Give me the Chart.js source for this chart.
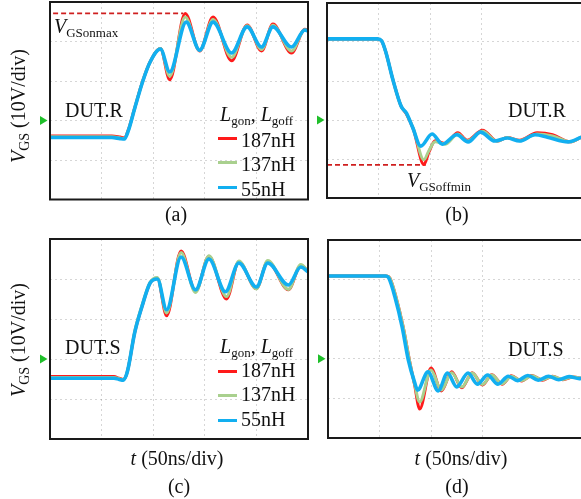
<!DOCTYPE html>
<html><head><meta charset="utf-8">
<script src="https://cdn.jsdelivr.net/npm/chart.js@4.4.0/dist/chart.umd.min.js"></script>
<style>
html,body{margin:0;padding:0;background:#fff;}
#wrap{position:relative;width:581px;height:499px;overflow:hidden;font-family:"Liberation Serif","Times New Roman",serif;color:#111;}
canvas{position:absolute;left:0;top:0;}
.t{position:absolute;font-size:20px;line-height:20px;white-space:nowrap;}
.cx{transform:translateX(-50%);}
.rot{transform:translate(-50%,-50%) rotate(-90deg);}
i{font-style:italic;}
sub{font-size:13px;vertical-align:-4px;line-height:0;}
.sw{position:absolute;width:19px;height:3px;}
</style></head>
<body><div id="wrap">
<canvas id="ca" width="581" height="499"></canvas>
<canvas id="cb" width="581" height="499"></canvas>
<canvas id="cc" width="581" height="499"></canvas>
<canvas id="cd" width="581" height="499"></canvas>

<div class="t rot" style="left:18px;top:106px;"><i>V</i><sub style="font-size:14px">GS</sub> (10V/div)</div>
<div class="t rot" style="left:18px;top:340px;"><i>V</i><sub style="font-size:14px">GS</sub> (10V/div)</div>

<div class="t" style="left:54px;top:16px;"><i>V</i><sub>GSonmax</sub></div>
<div class="t" style="left:407px;top:170px;"><i>V</i><sub>GSoffmin</sub></div>

<div class="t" style="left:65px;top:100px;">DUT.R</div>
<div class="t" style="left:508px;top:100px;">DUT.R</div>
<div class="t" style="left:65px;top:337px;">DUT.S</div>
<div class="t" style="left:508px;top:339px;">DUT.S</div>

<div class="t" style="left:220px;top:104px;"><i>L</i><sub>gon</sub>, <i>L</i><sub>goff</sub></div>
<div class="sw" style="left:218px;top:136.5px;background:#ff1a1a"></div>
<div class="sw" style="left:218px;top:160.5px;background:#a9d08e"></div>
<div class="sw" style="left:218px;top:185.5px;background:#12aff0"></div>
<div class="t" style="left:241px;top:130px;">187nH</div>
<div class="t" style="left:241px;top:154px;">137nH</div>
<div class="t" style="left:241px;top:179px;">55nH</div>

<div class="t" style="left:220px;top:336px;"><i>L</i><sub>gon</sub>, <i>L</i><sub>goff</sub></div>
<div class="sw" style="left:218px;top:369.5px;background:#ff1a1a"></div>
<div class="sw" style="left:218px;top:393.5px;background:#a9d08e"></div>
<div class="sw" style="left:218px;top:418.5px;background:#12aff0"></div>
<div class="t" style="left:241px;top:360px;">187nH</div>
<div class="t" style="left:241px;top:384px;">137nH</div>
<div class="t" style="left:241px;top:409px;">55nH</div>

<div class="t cx" style="left:177px;top:448px;"><i>t</i> (50ns/div)</div>
<div class="t cx" style="left:461px;top:448px;"><i>t</i> (50ns/div)</div>

<div class="t cx" style="left:176px;top:204px;">(a)</div>
<div class="t cx" style="left:457px;top:204px;">(b)</div>
<div class="t cx" style="left:179px;top:476px;">(c)</div>
<div class="t cx" style="left:457px;top:476px;">(d)</div>
</div>
<script>
// ---- data: time in ns (50 ns/div), V_GS in volts (10 V/div) ----
// (a) DUT.R turn-on
const aT187 = [0, 60, 68, 72, 76, 82, 90, 97, 107, 116, 131, 145, 158, 176, 191, 205, 216, 234, 247, 250];
const aV187 = [-3.9, -3.9, -4.2, -4.4, -2.3, 3.1, 10.1, 14.8, 18.2, 10.3, 27.1, 17.6, 26.2, 15.1, 24.2, 17.6, 24.4, 17.1, 23.1, 22.8];
const aT137 = [0, 60, 68, 72, 76, 82, 90, 97, 107, 116, 131, 145, 158, 176, 191, 205, 216, 234, 247, 250];
const aV137 = [-4.1, -4.1, -4.4, -4.6, -2.4, 3.1, 10.1, 14.8, 18.2, 11.2, 26.2, 17.7, 25.6, 16.0, 24.0, 18.0, 24.1, 17.6, 23.0, 22.7];
const aT55 = [0, 60, 68, 72, 76, 82, 90, 97, 107, 116, 132, 145, 158, 176, 191, 205, 216, 234, 247, 250];
const aV55 = [-4.3, -4.3, -4.6, -4.7, -2.5, 3, 10, 14.8, 18.1, 12.3, 24.9, 17.8, 24.9, 17.1, 23.7, 18.6, 23.7, 18.6, 22.9, 22.6];
const aMaxT = [3, 129];
const aMaxV = [27.1, 27.1];

// (b) DUT.R turn-off
const bT187 = [0, 49, 53, 57, 64, 72, 77, 84, 94, 99, 105, 115, 127, 136, 151, 165, 175, 187, 204, 219, 236, 247];
const bV187 = [20.8, 20.8, 20.3, 17.5, 10.3, 3.5, 1.6, -2.5, -11.4, -8.2, -5.3, -6.0, -3.3, -5.2, -2.6, -5.4, -4.5, -5.2, -3.3, -3.8, -5.6, -4.4];
const bT137 = [0, 49, 53, 57, 64, 72, 77, 84, 94, 99, 105, 115, 127, 136, 151, 165, 175, 187, 204, 219, 236, 247];
const bV137 = [20.8, 20.8, 20.3, 17.5, 10.3, 3.5, 1.7, -2.3, -10.2, -7.8, -5.6, -6.2, -3.6, -5.4, -2.9, -5.4, -4.5, -5.3, -3.6, -4.1, -5.6, -4.4];
const bT55 = [0, 49, 53, 57, 64, 72, 77, 83, 91, 102, 112, 126, 137, 149, 163, 175, 187, 202, 214, 234, 247];
const bV55 = [20.8, 20.8, 20.3, 17.5, 10.3, 3.5, 1.8, -1.8, -6.7, -3.6, -6.2, -3.8, -5.6, -3.1, -5.4, -4.6, -5.4, -3.8, -4.4, -5.6, -4.4];
const bMinT = [0, 96];
const bMinV = [-11.5, -11.5];

// (c) DUT.S turn-on
const cT187 = [0, 62, 67, 71, 74, 76, 82, 89, 97, 104, 113, 127, 141, 154, 171, 183, 200, 211, 231, 243, 250];
const cV187 = [-4.4, -4.4, -4.8, -5.1, -4, -2, 6.5, 13, 19, 20.2, 10.8, 27, 16.9, 25.7, 15, 24.3, 17.6, 24.4, 17.3, 23.4, 22];
const cT137 = [0, 62, 67, 71, 74, 76, 82, 89, 97, 104, 113, 127, 141, 154, 171, 183, 200, 211, 231, 243, 250];
const cV137 = [-4.6, -4.6, -4.9, -5.2, -4, -2, 6.8, 13.3, 19.2, 20.4, 11.5, 26.6, 16.6, 25.8, 15.6, 24.5, 17.5, 24.6, 17.4, 23.6, 22];
const cT55 = [0, 62, 67, 71, 74, 76, 82, 89, 97, 104, 113, 127, 141, 154, 170, 183, 200, 211, 231, 243, 250];
const cV55 = [-4.8, -4.8, -5.1, -5.3, -4, -2, 6.5, 13, 19, 20, 12.3, 25.5, 17.3, 25, 16.8, 24, 18, 24, 18.5, 23, 21.8];

// (d) DUT.S turn-off
const dT187 = [0, 57, 60, 66, 73, 79, 84, 89, 100, 110, 120, 130, 140, 150, 159, 169, 178, 188, 198, 208, 218, 228, 238, 247];
const dV187 = [20.9, 20.9, 20.4, 15.6, 8, -0.3, -6.5, -12.7, -2.3, -8.1, -3.3, -7.3, -3.5, -6.6, -4, -6.4, -4.3, -5.6, -4.2, -5.4, -4.4, -5.3, -4.6, -5.0];
const dT137 = [0, 57, 60, 66, 73, 79, 84, 89, 100, 110, 120, 130, 140, 150, 159, 169, 178, 188, 198, 208, 218, 228, 238, 247];
const dV137 = [20.9, 20.9, 20.4, 15.6, 8, -0.3, -6.3, -10.9, -2.8, -7.9, -3.5, -7.1, -3.6, -6.5, -4.1, -6.3, -4.4, -5.5, -4.3, -5.3, -4.5, -5.2, -4.6, -5.0];
const dT55 = [0, 56, 59, 65, 72, 78, 84, 87, 97, 107, 116, 125, 136, 145, 155, 165, 175, 184, 194, 204, 214, 224, 234, 244, 247];
const dV55 = [20.9, 20.9, 20.4, 15.6, 8, -0.3, -5.9, -7.9, -3.3, -8.1, -3.6, -7.1, -3.6, -6.4, -4.1, -6.4, -4.4, -5.5, -4.2, -5.4, -4.4, -5.3, -4.5, -5.0, -4.8];

const seriesNames = ['187nH', '137nH', '55nH'];
const seriesColors = ['#ff1a1a', '#a9d08e', '#12aff0'];
const seriesWidths = [3, 3, 3.6];
const yMinV = -20, yMaxV = 30, yStep = 10;
const xStep = 50;

const pts = (t, v) => t.map((x, i) => ({x: x, y: v[i]}));

const framePlugin = {
  id: 'frame',
  afterDraw(chart, args, opts) {
    const {ctx, chartArea: {left, top, right, bottom}} = chart;
    ctx.save();
    ctx.strokeStyle = '#1a1a1a';
    ctx.lineWidth = 2;
    ctx.beginPath();
    if (opts.open) {
      ctx.moveTo(right + 2, top); ctx.lineTo(left, top); ctx.lineTo(left, bottom); ctx.lineTo(right + 2, bottom);
    } else {
      ctx.rect(left, top, right - left, bottom - top);
    }
    ctx.stroke();
    const y0 = chart.scales.y.getPixelForValue(0);
    ctx.fillStyle = '#1fbf2a';
    ctx.beginPath();
    ctx.moveTo(left - 10, y0 - 4.5); ctx.lineTo(left - 2.5, y0); ctx.lineTo(left - 10, y0 + 4.5);
    ctx.closePath(); ctx.fill();
    ctx.restore();
  }
};

function makePanel(id, pad, xMax, tArr, vArr, dash, open) {
  const datasets = [];
  for (let k = 0; k < 3; k++) {
    datasets.push({
      label: seriesNames[k],
      data: pts(tArr[k], vArr[k]),
      borderColor: seriesColors[k],
      borderWidth: seriesWidths[k],
      pointRadius: 0,
      fill: false,
      cubicInterpolationMode: 'monotone',
      order: 3 - k
    });
  }
  if (dash) {
    datasets.push({
      label: 'limit',
      data: pts(dash[0], dash[1]),
      borderColor: '#cf1f1f',
      borderWidth: 1.8,
      borderDash: [5, 3],
      pointRadius: 0,
      fill: false,
      order: 10
    });
  }
  const gridOpts = {color: 'rgba(0,0,0,0.16)', lineWidth: 1, drawTicks: false};
  return new Chart(document.getElementById(id), {
    type: 'line',
    data: {datasets},
    options: {
      responsive: false,
      animation: false,
      devicePixelRatio: 1,
      events: [],
      layout: {padding: pad},
      plugins: {legend: {display: false}, tooltip: {enabled: false}, frame: {open: open}},
      scales: {
        x: {
          type: 'linear', min: 0, max: xMax,
          ticks: {display: false, stepSize: xStep},
          afterBuildTicks: s => { s.ticks = s.ticks.filter(t => Math.abs(t.value / xStep - Math.round(t.value / xStep)) < 1e-6); },
          grid: gridOpts,
          border: {display: false, dash: [2, 3]}
        },
        y: {
          type: 'linear', min: yMinV, max: yMaxV,
          ticks: {display: false, stepSize: yStep},
          grid: gridOpts,
          border: {display: false, dash: [2, 3]}
        }
      }
    },
    plugins: [framePlugin]
  });
}

makePanel('ca', {left: 50, top: 2, right: 273, bottom: 299.5}, 250,
  [aT187, aT137, aT55], [aV187, aV137, aV55], [aMaxT, aMaxV], false);
makePanel('cb', {left: 327, top: 3, right: 0, bottom: 301}, 246.6,
  [bT187, bT137, bT55], [bV187, bV137, bV55], [bMinT, bMinV], true);
makePanel('cc', {left: 50, top: 239, right: 273, bottom: 60}, 250,
  [cT187, cT137, cT55], [cV187, cV137, cV55], null, false);
makePanel('cd', {left: 328, top: 240, right: 0, bottom: 61}, 245.6,
  [dT187, dT137, dT55], [dV187, dV137, dV55], null, true);
</script>
</body></html>
